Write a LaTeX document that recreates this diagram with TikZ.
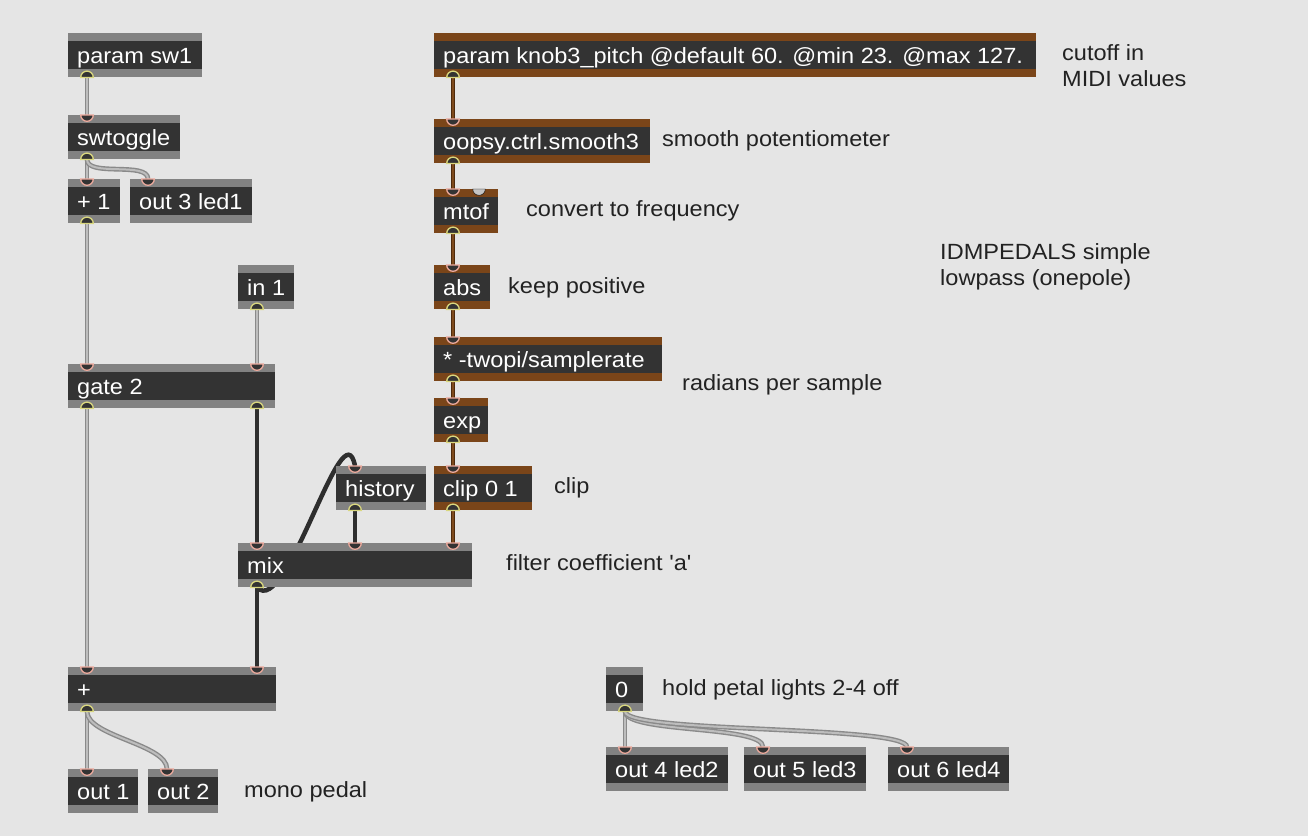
\documentclass[tikz,border=0pt]{standalone}
\usepackage{fontspec}
\newfontfamily\boxfont{Liberation Sans}[FakeStretch=1.07]
\newfontfamily\notefont{Liberation Sans}[Ligatures=TeXOff,FakeStretch=1.07]
\usetikzlibrary{backgrounds}

\definecolor{patchbg}{HTML}{E5E5E5}
\definecolor{stripgrey}{HTML}{828282}
\definecolor{stripbrown}{HTML}{7A4519}
\definecolor{bodygrey}{HTML}{333333}
\definecolor{cablegrey}{HTML}{8A8A8A}
\definecolor{cablelight}{HTML}{BDBDBD}
\definecolor{cablebrown}{HTML}{7E4A1C}
\definecolor{cablebrowndark}{HTML}{4E2A0C}
\definecolor{cableblack}{HTML}{2E2E2E}
\definecolor{inletpink}{HTML}{EBA99C}
\definecolor{outletyellow}{HTML}{D9D77E}
\definecolor{ghostgrey}{HTML}{C4C4C4}
\definecolor{notetext}{HTML}{222222}

\tikzset{
  objframe/.style={fill=stripgrey, inner sep=0pt, minimum height=44pt, anchor=north west},
  objtext/.style={text=white, font=\boxfont\fontsize{22}{26}\selectfont, inner sep=0pt, anchor=base west},
  note/.style={text=notetext, font=\notefont\fontsize{22}{26}\selectfont, inner sep=0pt, anchor=base west, align=left},
  greycable/.style={draw=cablegrey, double=cablelight, double distance=2pt, line width=1.4pt},
  browncable/.style={draw=cablebrowndark, double=cablebrown, double distance=2.4pt, line width=1.1pt},
  blackcable/.style={draw=cableblack, line width=4.5pt},
  inport/.style={fill=bodygrey, draw=inletpink, line width=1.3pt},
  outport/.style={fill=bodygrey, draw=outletyellow, line width=1.3pt},
  ghostport/.style={fill=ghostgrey},
}

\newcommand{\patchobj}[6][stripgrey]{%
  \node[objframe, fill=#1, minimum width=#5pt] (#2) at (#3,#4) {};
  \fill[bodygrey] ([yshift=-8pt]#2.north west) rectangle ([yshift=8pt]#2.south east);
  \node[objtext] (#2-txt) at ([xshift=9pt,yshift=-8pt]#2.west) {#6};
}
\newcommand{\inlet}[3][inport]{%
  \filldraw[#1] ([xshift=#3pt]#2.north west) ++(-6.3pt,0pt) arc[start angle=180, end angle=360, radius=6.3pt] -- cycle;
}
\newcommand{\outlet}[2]{%
  \filldraw[outport] ([xshift=#2pt]#1.south west) ++(-6.3pt,0pt) arc[start angle=180, end angle=0, radius=6.3pt] -- cycle;
}

\begin{document}
\begin{tikzpicture}[x=1pt,y=-1pt]
\patchobj{psw}{68}{33}{134}{param sw1}
\patchobj{swt}{68}{115}{112}{swtoggle}
\patchobj{plusone}{68}{179}{52}{+ 1}
\patchobj{led1}{130}{179}{122}{out 3 led1}
\patchobj{inone}{238}{265}{56}{in 1}
\patchobj{gate}{68}{364}{207}{gate 2}
\patchobj{hist}{336}{466}{90}{history}
\patchobj{mix}{238}{543}{234}{mix}
\patchobj{sum}{68}{667}{208}{+}
\patchobj{outone}{68}{769}{70}{out 1}
\patchobj{outtwo}{148}{769}{70}{out 2}
\patchobj[stripbrown]{knob}{434}{33}{602}{param knob3\_pitch @default 60. @min 23. @max 127.}
\patchobj[stripbrown]{smooth}{434}{119}{216}{oopsy.ctrl.smooth3}
\patchobj[stripbrown]{mtof}{434}{189}{64}{mtof}
\patchobj[stripbrown]{abs}{434}{265}{56}{abs}
\patchobj[stripbrown]{twopi}{434}{337}{228}{* -twopi/samplerate}
\patchobj[stripbrown]{exp}{434}{398}{54}{exp}
\patchobj[stripbrown]{clip}{434}{466}{98}{clip 0 1}
\patchobj{zero}{606}{667}{37}{0}
\patchobj{led2}{606}{747}{122}{out 4 led2}
\patchobj{led3}{744}{747}{122}{out 5 led3}
\patchobj{led4}{888}{747}{121}{out 6 led4}

\begin{scope}[on background layer]
\fill[patchbg] (0,0) rectangle (1308,836);
\draw[greycable] ([xshift=19pt]psw.south west) -- ([xshift=19pt]swt.north west);
\draw[greycable] ([xshift=19pt]swt.south west) -- ([xshift=19pt]plusone.north west);
\draw[greycable] ([xshift=19pt]swt.south west) .. controls +(0,18) and +(0,-18) .. ([xshift=18pt]led1.north west);
\draw[greycable] ([xshift=19pt]plusone.south west) -- ([xshift=19pt]gate.north west);
\draw[greycable] ([xshift=19pt]inone.south west) -- ([xshift=189pt]gate.north west);
\draw[greycable] ([xshift=19pt]gate.south west) -- ([xshift=19pt]sum.north west);
\draw[blackcable] ([xshift=189pt]gate.south west) -- ([xshift=19pt]mix.north west);
\draw[blackcable] ([xshift=19pt]mix.south west) -- ([xshift=189pt]sum.north west);
\draw[blackcable] ([xshift=19pt]mix.south west) .. controls +(30,32) and +(-12,-62) .. ([xshift=19pt]hist.north west);
\draw[blackcable] ([xshift=19pt]hist.south west) -- ([xshift=117pt]mix.north west);
\draw[browncable] ([xshift=19pt]clip.south west) -- ([xshift=215pt]mix.north west);
\draw[browncable] ([xshift=19pt]knob.south west) -- ([xshift=19pt]smooth.north west);
\draw[browncable] ([xshift=19pt]smooth.south west) -- ([xshift=19pt]mtof.north west);
\draw[browncable] ([xshift=19pt]mtof.south west) -- ([xshift=19pt]abs.north west);
\draw[browncable] ([xshift=19pt]abs.south west) -- ([xshift=19pt]twopi.north west);
\draw[browncable] ([xshift=19pt]twopi.south west) -- ([xshift=19pt]exp.north west);
\draw[browncable] ([xshift=19pt]exp.south west) -- ([xshift=19pt]clip.north west);
\draw[greycable] ([xshift=19pt]sum.south west) -- ([xshift=19pt]outone.north west);
\draw[greycable] ([xshift=19pt]sum.south west) .. controls +(0,25) and +(0,-25) .. ([xshift=19pt]outtwo.north west);
\draw[greycable] ([xshift=19pt]zero.south west) -- ([xshift=19pt]led2.north west);
\draw[greycable] ([xshift=19pt]zero.south west) .. controls +(0,22) and +(0,-22) .. ([xshift=19pt]led3.north west);
\draw[greycable] ([xshift=19pt]zero.south west) .. controls +(0,22) and +(0,-22) .. ([xshift=19pt]led4.north west);
\end{scope}

\outlet{psw}{19}
\inlet{swt}{19} \outlet{swt}{19}
\inlet{plusone}{19} \outlet{plusone}{19}
\inlet{led1}{18}
\outlet{inone}{19}
\inlet{gate}{19} \inlet{gate}{189} \outlet{gate}{19} \outlet{gate}{189}
\inlet{hist}{19} \outlet{hist}{19}
\inlet{mix}{19} \inlet{mix}{117} \inlet{mix}{215} \outlet{mix}{19}
\inlet{sum}{19} \inlet{sum}{189} \outlet{sum}{19}
\inlet{outone}{19}
\inlet{outtwo}{19}
\outlet{knob}{19}
\inlet{smooth}{19} \outlet{smooth}{19}
\inlet{mtof}{19} \inlet[ghostport]{mtof}{45} \outlet{mtof}{19}
\inlet{abs}{19} \outlet{abs}{19}
\inlet{twopi}{19} \outlet{twopi}{19}
\inlet{exp}{19} \outlet{exp}{19}
\inlet{clip}{19} \outlet{clip}{19}
\outlet{zero}{19}
\inlet{led2}{19}
\inlet{led3}{19}
\inlet{led4}{19}

\node[note] (cutoff) at (1062,86) {cutoff in\\MIDI values};
\node[note] (smoothnote) at (662,146) {smooth potentiometer};
\node[note] (freqnote) at (526,216) {convert to frequency};
\node[note] (title) at (940,285) {IDMPEDALS simple\\lowpass (onepole)};
\node[note] (posnote) at (508,293) {keep positive};
\node[note] (radnote) at (682,390) {radians per sample};
\node[note] (clipnote) at (554,493) {clip};
\node[note] (coefnote) at (506,570) {filter coefficient 'a'};
\node[note] (holdnote) at (662,695) {hold petal lights 2-4 off};
\node[note] (mononote) at (244,797) {mono pedal};
\end{tikzpicture}
\end{document}
